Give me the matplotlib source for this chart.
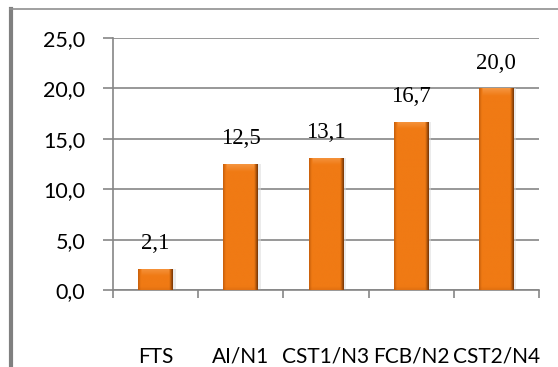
import numpy as np
import matplotlib
matplotlib.use("Agg")
import matplotlib.pyplot as plt
from matplotlib.lines import Line2D
from matplotlib.colors import to_rgb

# chart data
categories = ['FTS', 'AI/N1', 'CST1/N3', 'FCB/N2', 'CST2/N4']
values = [2.1, 12.5, 13.1, 16.7, 20.0]
y_ticks = [0, 5, 10, 15, 20, 25]

W, H, DPI = 558, 367, 100
fig = plt.figure(figsize=(W / DPI, H / DPI), dpi=DPI)
ax = fig.add_axes([113 / W, 1 - 290 / H, (539 - 113) / W, (290 - 38) / H])

grid_col = '#868686'
x = np.arange(len(categories))
bars = ax.bar(x, values, width=0.41, color='#F07A14', zorder=3)


def bar_image(height, ny=300, nx=60):
    # horizontal shading of a cylinder-like excel bar, lighter bevel on top
    base = np.array(to_rgb('#F07A14'))
    left = np.array(to_rgb('#C9600C'))
    right = np.array(to_rgb('#7A3806'))
    top = np.array(to_rgb('#F8A458'))
    t = np.linspace(0, 1, nx)
    row = np.empty((nx, 3))
    for i, v in enumerate(t):
        if v < 0.08:
            a = 1 - v / 0.08
            row[i] = base * (1 - a) + left * a
        elif v > 0.90:
            a = (v - 0.90) / 0.10
            row[i] = base * (1 - a) + right * a
        else:
            row[i] = base
    img = np.tile(row, (ny, 1, 1))
    yy = np.linspace(height, 0, ny)
    bevel = 0.75
    for j, yv in enumerate(yy):
        d = height - yv
        if d < bevel:
            a = 0.65 * (1 - d / bevel)
            img[j, 6:-6] = img[j, 6:-6] * (1 - a) + top * a
        if yv < 0.35:
            a = 0.25 * (1 - yv / 0.35)
            img[j] = img[j] * (1 - a) + np.array(to_rgb('#B35208')) * a
    return img


for b in bars:
    x0, w, h = b.get_x(), b.get_width(), b.get_height()
    # soft shadow on the right
    ax.bar(x0 + w / 2 + 0.03, h, width=w, color='#d9d9d9', alpha=0.5, zorder=2)
    im = ax.imshow(bar_image(h), extent=[x0, x0 + w, 0, h], aspect='auto',
                   zorder=4, interpolation='bilinear')
    im.set_clip_path(b)

for xi, v in zip(x, values):
    ax.annotate(f'{v:.1f}'.replace('.', ','), (xi, v), xytext=(0, 18),
                textcoords='offset points', ha='center', va='center',
                family='Liberation Serif', fontsize=16.5, zorder=5)

ax.set_xlim(-0.5, len(categories) - 0.5)
ax.set_ylim(0, 25)
ax.set_yticks(y_ticks)
ax.set_yticklabels([f'{v:.1f}'.replace('.', ',') for v in y_ticks],
                   family='Lato', fontsize=15.5)
ax.set_xticks(x)
ax.set_xticklabels(categories, family='Lato', fontsize=15)
ax.set_xticks(np.arange(-0.5, len(categories)), minor=True)
ax.tick_params(axis='x', which='major', length=0, pad=41)
ax.tick_params(axis='x', which='minor', length=6, width=1.2, color=grid_col)
ax.tick_params(axis='y', length=7, width=1.2, color=grid_col, pad=13)
ax.yaxis.grid(True, color=grid_col, lw=1.2, zorder=0)
ax.set_axisbelow(True)
for s in ['top', 'right']:
    ax.spines[s].set_visible(False)
for s in ['left', 'bottom']:
    ax.spines[s].set_color(grid_col)
    ax.spines[s].set_linewidth(1.2)

# outer chart frame (left and top edge only visible)
fig.add_artist(Line2D([11 / W, 11 / W], [0, 1 - 9 / H], color='#808080', lw=3))
fig.add_artist(Line2D([10 / W, 1], [1 - 9 / H, 1 - 9 / H], color='#909090', lw=1.2))

fig.savefig('out.png', dpi=DPI)
